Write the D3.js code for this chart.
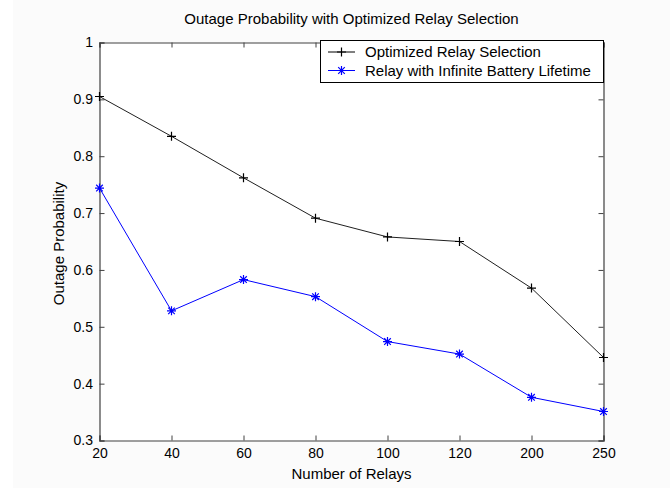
<!DOCTYPE html>
<html><head><meta charset="utf-8">
<script src="https://cdn.jsdelivr.net/npm/d3@7"></script>
<style>
html,body{margin:0;padding:0;background:#fbfbfb;}
svg{display:block;font-family:"Liberation Sans",Arial,sans-serif;}
</style></head>
<body>
<svg id="chart" width="670" height="488"></svg>
<script>
const categories = ["20","40","60","80","100","120","200","250"];
const optimizedValues = [0.905,0.835,0.762,0.691,0.658,0.650,0.568,0.446];
const infiniteValues = [0.744,0.528,0.583,0.553,0.474,0.452,0.376,0.351];
const yTicks = [0.3,0.4,0.5,0.6,0.7,0.8,0.9,1];
const seriesNames = ["Optimized Relay Selection","Relay with Infinite Battery Lifetime"];

const svg = d3.select("#chart");
const W = 670, H = 488;
const L = 99.5, R = 603.5, T = 42.5, B = 440.5;

svg.append("rect").attr("x",0).attr("y",0).attr("width",13).attr("height",H).attr("fill","#ffffff");

const x = d3.scalePoint().domain(categories).range([L, R]);
const y = d3.scaleLinear().domain([0.3, 1]).range([B, T]);

svg.append("rect").attr("x",L).attr("y",T).attr("width",R-L).attr("height",B-T).attr("fill","#ffffff");

const axisColor = "#404040";
const xb = svg.append("g").attr("transform",`translate(0,${B})`)
  .call(d3.axisBottom(x).tickSize(-5).tickPadding(8));
const xt = svg.append("g").attr("transform",`translate(0,${T})`)
  .call(d3.axisTop(x).tickSize(-5).tickFormat(""));
const yl = svg.append("g").attr("transform",`translate(${L},0)`)
  .call(d3.axisLeft(y).tickValues(yTicks).tickSize(-5).tickPadding(6.5).tickFormat(d3.format("~g")));
const yr = svg.append("g").attr("transform",`translate(${R},0)`)
  .call(d3.axisRight(y).tickValues(yTicks).tickSize(-5).tickFormat(""));
[xb,xt,yl,yr].forEach(g=>{
  g.select(".domain").attr("stroke",axisColor).attr("stroke-width",1.2);
  g.selectAll(".tick line").attr("stroke",axisColor);
  g.selectAll("text").attr("fill","#000").attr("font-size",14).attr("font-family","Liberation Sans, Arial, sans-serif");
});

const line = d3.line().x((d,i)=>x(categories[i])).y(d=>y(d));

svg.append("path").datum(optimizedValues).attr("d",line)
  .attr("fill","none").attr("stroke","#202020").attr("stroke-width",1);
svg.append("path").datum(infiniteValues).attr("d",line)
  .attr("fill","none").attr("stroke","#0000ff").attr("stroke-width",1);

function plus(g, cx, cy, color){
  g.append("path").attr("d",`M${cx-4.5},${cy}H${cx+4.5}M${cx},${cy-4.5}V${cy+4.5}`)
    .attr("stroke",color).attr("stroke-width",1.2).attr("fill","none");
}
function star(g, cx, cy, color){
  const s=4.5, d=3.3;
  g.append("path").attr("d",`M${cx-s},${cy}H${cx+s}M${cx},${cy-s}V${cy+s}M${cx-d},${cy-d}L${cx+d},${cy+d}M${cx-d},${cy+d}L${cx+d},${cy-d}`)
    .attr("stroke",color).attr("stroke-width",1.2).attr("fill","none");
}
const mk = svg.append("g");
optimizedValues.forEach((v,i)=>plus(mk, x(categories[i]), y(v), "#000"));
infiniteValues.forEach((v,i)=>star(mk, x(categories[i]), y(v), "#0000ff"));

svg.append("text").attr("x",(L+R)/2).attr("y",24).attr("text-anchor","middle")
  .attr("font-size",15).text("Outage Probability with Optimized Relay Selection");
svg.append("text").attr("x",(L+R)/2).attr("y",478.5).attr("text-anchor","middle")
  .attr("font-size",15).text("Number of Relays");
svg.append("text").attr("transform",`translate(64,${(T+B)/2 + 2}) rotate(-90)`).attr("text-anchor","middle")
  .attr("font-size",15).text("Outage Probability");

const lg = svg.append("g");
lg.append("rect").attr("x",320.5).attr("y",40.5).attr("width",R-320.5).attr("height",42)
  .attr("fill","#fff").attr("stroke","#000").attr("stroke-width",1);
const rows = [52, 70.5];
const colors = ["#000","#0000ff"];
seriesNames.forEach((n,i)=>{
  lg.append("line").attr("x1",328).attr("x2",355).attr("y1",rows[i]).attr("y2",rows[i]).attr("stroke",colors[i]).attr("stroke-width",1);
  if(i===0) plus(lg, 341.5, rows[i], colors[i]); else star(lg, 341.5, rows[i], colors[i]);
  lg.append("text").attr("x",365).attr("y",rows[i]+5.4).attr("font-size",15).text(n);
});
</script>
</body></html>
